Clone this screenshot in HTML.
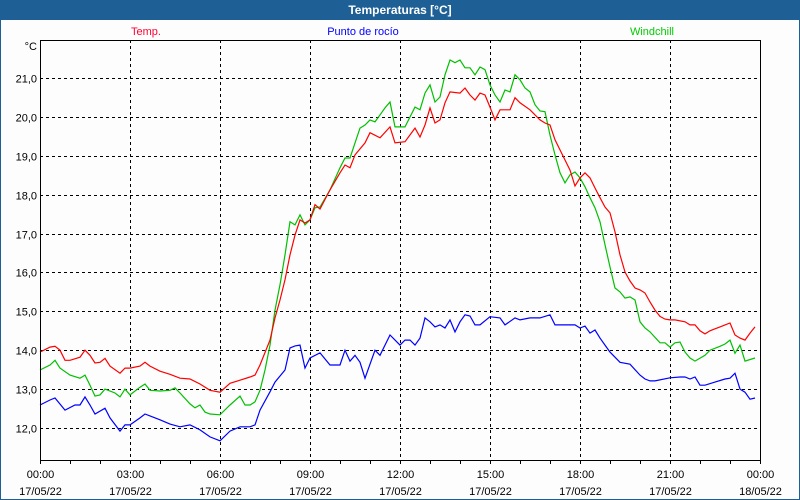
<!DOCTYPE html>
<html><head><meta charset="utf-8"><style>
html,body{margin:0;padding:0;background:#fff}
svg{display:block;font-family:"Liberation Sans","DejaVu Sans",sans-serif}
</style></head><body>
<svg id="chart" width="800" height="500" viewBox="0 0 800 500">
<rect x="0" y="0" width="800" height="500" fill="#fdfdfd"/>
<rect x="0.5" y="0.5" width="799" height="499" fill="none" stroke="#1e5f96"/>
<rect x="0" y="0" width="800" height="20" fill="#1e5f96"/>
<text x="400" y="14" text-anchor="middle" font-size="12" font-weight="bold" fill="#fff">Temperaturas [°C]</text>
<text x="146" y="35" text-anchor="middle" font-size="11" fill="#ff0033">Temp.</text>
<text x="363" y="35" text-anchor="middle" font-size="11" fill="#0000ff">Punto de rocío</text>
<text x="652" y="35" text-anchor="middle" font-size="11" fill="#00cc00">Windchill</text>
<text x="37" y="50" text-anchor="end" font-size="11" fill="#000">°C</text>
<g id="grid"></g>
<g id="series"></g>
<rect x="40.5" y="40.5" width="720" height="420" fill="none" stroke="#000"/>
<g id="axes"></g>
</svg>
<script>
const yTicks = [12, 13, 14, 15, 16, 17, 18, 19, 20, 21];
const yTickLabels = ["12,0","13,0","14,0","15,0","16,0","17,0","18,0","19,0","20,0","21,0"];
const xTickMinutes = [0, 180, 360, 540, 720, 900, 1080, 1260, 1440];
const xTickTimes = ["00:00","03:00","06:00","09:00","12:00","15:00","18:00","21:00","00:00"];
const xTickDates = ["17/05/22","17/05/22","17/05/22","17/05/22","17/05/22","17/05/22","17/05/22","17/05/22","18/05/22"];

const tempMinutes = [0,20,30,40,50,60,80,90,100,110,120,130,140,160,170,180,200,210,220,240,260,280,300,320,340,360,380,400,420,430,440,460,470,480,490,500,510,520,530,540,550,560,580,600,610,620,630,650,660,680,700,710,730,750,760,770,780,790,800,810,820,840,850,860,870,880,890,900,910,920,940,950,960,980,1000,1010,1020,1030,1040,1060,1070,1080,1090,1100,1110,1120,1130,1140,1150,1160,1170,1180,1190,1200,1210,1220,1230,1240,1250,1260,1270,1290,1300,1310,1320,1330,1340,1350,1360,1370,1380,1390,1400,1410,1420,1430];
const tempValues = [13.95,14.08,14.10,14.00,13.74,13.74,13.82,14.00,13.87,13.67,13.69,13.79,13.59,13.41,13.54,13.54,13.59,13.69,13.59,13.46,13.38,13.28,13.26,13.13,12.97,12.92,13.15,13.23,13.31,13.36,13.62,14.26,14.83,15.29,15.81,16.45,16.96,17.35,17.27,17.35,17.74,17.63,18.12,18.56,18.76,18.69,19.02,19.33,19.59,19.46,19.74,19.33,19.36,19.71,19.48,19.79,20.23,19.84,19.92,20.36,20.64,20.61,20.74,20.56,20.43,20.61,20.56,20.25,19.92,20.18,20.18,20.49,20.36,20.18,19.92,19.84,19.79,19.41,19.15,18.63,18.22,18.43,18.56,18.43,18.17,17.92,17.68,17.53,17.04,16.45,16.01,15.78,15.60,15.55,15.47,15.24,15.03,14.87,14.80,14.78,14.78,14.73,14.65,14.65,14.50,14.42,14.50,14.55,14.60,14.65,14.70,14.39,14.31,14.26,14.44,14.60];

const chillMinutes = [0,20,30,40,60,80,90,100,110,120,130,150,160,170,180,200,210,220,240,260,270,280,300,310,320,330,340,360,380,400,410,420,430,440,450,460,470,480,490,500,510,520,530,540,550,560,580,600,610,620,630,640,650,660,670,690,700,710,730,750,760,770,780,790,800,810,820,830,840,850,860,870,880,890,900,910,920,930,940,950,960,970,980,990,1000,1010,1020,1030,1040,1050,1060,1070,1080,1090,1100,1110,1120,1130,1140,1150,1160,1170,1180,1190,1200,1210,1220,1240,1250,1260,1270,1280,1290,1300,1310,1330,1340,1360,1370,1380,1390,1400,1410,1430];
const chillValues = [13.49,13.62,13.74,13.54,13.36,13.28,13.36,13.10,12.82,12.85,13.00,12.90,12.80,13.00,12.85,13.05,13.13,12.97,12.95,12.97,13.03,12.90,12.62,12.52,12.59,12.41,12.36,12.34,12.59,12.82,12.59,12.59,12.67,12.97,13.49,14.13,15.03,15.68,16.45,17.30,17.22,17.48,17.22,17.35,17.66,17.68,18.12,18.69,18.94,18.94,19.33,19.71,19.79,19.92,19.87,20.23,20.38,19.74,19.74,20.25,20.18,20.61,20.82,20.38,20.51,21.08,21.46,21.39,21.46,21.26,21.26,21.08,21.28,21.21,20.82,20.56,20.38,20.69,20.64,21.08,20.95,20.74,20.64,20.31,20.15,20.13,19.53,19.02,18.56,18.30,18.51,18.58,18.43,18.20,17.92,17.66,17.30,16.71,16.14,15.60,15.50,15.34,15.37,15.29,14.73,14.57,14.47,14.19,14.19,14.08,14.19,14.21,13.95,13.80,13.72,13.87,14.00,14.10,14.16,14.26,13.92,14.13,13.72,13.80,14.26];

const dewMinutes = [0,20,30,50,70,80,90,100,110,130,140,160,170,180,200,210,220,240,260,280,300,320,340,360,380,400,420,430,440,460,470,490,500,510,520,530,540,560,580,600,610,620,630,640,650,670,680,700,720,730,740,750,760,770,780,790,800,810,820,830,840,850,860,870,880,900,920,930,950,960,980,1000,1020,1030,1040,1070,1080,1090,1100,1110,1120,1130,1140,1150,1160,1180,1200,1210,1220,1230,1260,1280,1290,1300,1310,1320,1330,1350,1370,1380,1390,1400,1410,1420,1430];
const dewValues = [12.59,12.72,12.77,12.46,12.59,12.59,12.80,12.59,12.36,12.51,12.26,11.92,12.08,12.08,12.26,12.36,12.31,12.21,12.10,12.03,12.08,11.95,11.77,11.67,11.92,12.03,12.03,12.08,12.46,12.93,13.18,13.49,14.06,14.11,14.13,13.54,13.80,13.93,13.62,13.62,14.00,13.72,13.87,13.69,13.28,14.00,13.87,14.39,14.13,14.26,14.26,14.13,14.31,14.83,14.73,14.60,14.65,14.57,14.78,14.47,14.73,14.91,14.88,14.65,14.65,14.86,14.83,14.65,14.83,14.78,14.83,14.83,14.91,14.65,14.65,14.65,14.57,14.62,14.44,14.52,14.31,14.13,13.95,13.82,13.69,13.64,13.36,13.26,13.21,13.21,13.29,13.31,13.31,13.26,13.31,13.10,13.10,13.18,13.26,13.28,13.41,13.00,12.92,12.74,12.77,12.87];

const NS = "http://www.w3.org/2000/svg";
const X0 = 40, X1 = 760, YTOP = 40, YBOT = 460;
function xScale(m){ return X0 + m / 1440 * (X1 - X0); }
function yScale(t){ return 428 - (t - 12) * 38.9; }

const grid = document.getElementById('grid');
const axes = document.getElementById('axes');
const series = document.getElementById('series');

yTicks.forEach((v, i) => {
  const y = Math.round(yScale(v)) + 0.5;
  const l = document.createElementNS(NS, 'line');
  l.setAttribute('x1', X0); l.setAttribute('x2', X1);
  l.setAttribute('y1', y); l.setAttribute('y2', y);
  l.setAttribute('stroke', '#000'); l.setAttribute('stroke-dasharray', '3 3');
  
  
  grid.appendChild(l);
  const t = document.createElementNS(NS, 'text');
  t.setAttribute('x', 37); t.setAttribute('y', y + 4);
  t.setAttribute('text-anchor', 'end'); t.setAttribute('font-size', '11');
  t.textContent = yTickLabels[i];
  
  
  axes.appendChild(t);
});

xTickMinutes.forEach((m, i) => {
  const x = Math.round(xScale(m)) + 0.5;
  if (i > 0 && i < xTickMinutes.length - 1) {
    const l = document.createElementNS(NS, 'line');
    l.setAttribute('x1', x); l.setAttribute('x2', x);
    l.setAttribute('y1', YTOP); l.setAttribute('y2', YBOT);
    l.setAttribute('stroke', '#000'); l.setAttribute('stroke-dasharray', '3 3');
    
    
    grid.appendChild(l);
  }
  const t1 = document.createElementNS(NS, 'text');
  t1.setAttribute('x', x); t1.setAttribute('y', 478);
  t1.setAttribute('text-anchor', 'middle'); t1.setAttribute('font-size', '11');
  t1.textContent = xTickTimes[i];
  
  
  axes.appendChild(t1);
  const t2 = document.createElementNS(NS, 'text');
  t2.setAttribute('x', x); t2.setAttribute('y', 495);
  t2.setAttribute('text-anchor', 'middle'); t2.setAttribute('font-size', '11');
  t2.textContent = xTickDates[i];
  
  
  axes.appendChild(t2);
});

for (let h = 0; h <= 24; h++) {
  const x = Math.round(xScale(h * 60)) + 0.5;
  const l = document.createElementNS(NS, 'line');
  l.setAttribute('x1', x); l.setAttribute('x2', x);
  l.setAttribute('y1', YBOT); l.setAttribute('y2', YBOT + 4);
  l.setAttribute('stroke', '#000');
  
  
  axes.appendChild(l);
}

function drawSeries(mins, vals, color, name) {
  const p = document.createElementNS(NS, 'polyline');
  p.setAttribute('points', mins.map((m, i) => xScale(m).toFixed(1) + ',' + yScale(vals[i]).toFixed(1)).join(' '));
  p.setAttribute('fill', 'none'); p.setAttribute('stroke', color);
  p.setAttribute('stroke-width', '1.2');
  
  
  series.appendChild(p);
}
drawSeries(dewMinutes, dewValues, '#0000ff', 'dew-point-line');
drawSeries(chillMinutes, chillValues, '#00c000', 'windchill-line');
drawSeries(tempMinutes, tempValues, '#ff0000', 'temperature-line');
</script>
</body></html>
